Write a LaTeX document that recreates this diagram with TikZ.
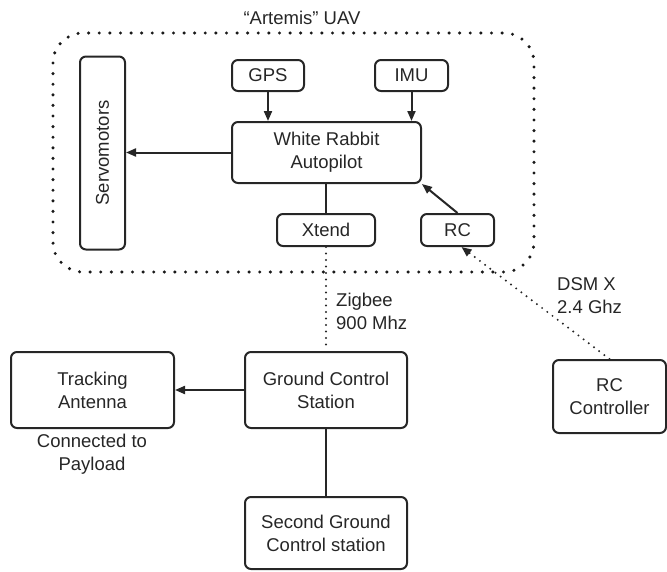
\documentclass[tikz,border=0pt]{standalone}
\usepackage{fontspec}
\setmainfont{Liberation Sans}
\usetikzlibrary{arrows.meta}
\begin{document}
\begin{tikzpicture}[x=1pt,y=-1pt,
  box/.style={draw=black!85, line width=2pt, rounded corners=6pt, align=center, inner sep=0pt,
              font=\fontsize{18.5}{23}\selectfont, text=black!85},
  lbl/.style={inner sep=0pt, font=\fontsize{18.5}{23}\selectfont, text=black!85},
  arr/.style={draw=black!85, line width=2pt, -{Triangle[length=10pt,width=8pt]}},
  ln/.style={draw=black!85, line width=2pt},
  dotln/.style={draw=black!85, line width=2.2pt, line cap=round, dash pattern=on 0pt off 6.5pt},
  dotarr/.style={dotln, -{Triangle[length=10pt,width=8pt]}},
  bigdot/.style={draw=black!90, line width=3.4pt, line cap=round, dash pattern=on 0pt off 10.6pt}
]
\useasboundingbox (0,0) rectangle (667,571);
% group boundary
\draw[bigdot, rounded corners=30pt] (53,33) rectangle (534,272);
\node[lbl] (title) at (302,18) {“Artemis” UAV};
% UAV nodes
\node[box, minimum width=72pt, minimum height=31pt] (gps) at (268,75.5) {GPS};
\node[box, minimum width=73pt, minimum height=31pt] (imu) at (411.5,75.5) {IMU};
\node[box, minimum width=189pt, minimum height=61pt] (ap) at (326.5,152.5) {White Rabbit\\Autopilot};
\node[box, minimum width=98pt, minimum height=32pt] (xtend) at (326,230) {Xtend};
\node[box, minimum width=73pt, minimum height=32pt] (rc) at (457.5,230) {RC};
\node[box, minimum width=45pt, minimum height=193pt] (servo) at (102.5,153) {};
\node[lbl, rotate=90] (servotext) at (servo.center) {Servomotors};
% ground nodes
\node[box, minimum width=162pt, minimum height=76pt] (gcs) at (326,390) {Ground Control\\Station};
\node[box, minimum width=163pt, minimum height=76pt] (ta) at (92.5,390) {Tracking\\Antenna};
\node[box, minimum width=162pt, minimum height=72pt] (sgcs) at (326,533) {Second Ground\\Control station};
\node[box, minimum width=113pt, minimum height=73pt] (rcc) at (609.5,396.5) {RC\\Controller};
% labels
\node[lbl, anchor=west, align=left] (zig) at (336,311) {Zigbee\\900 Mhz};
\node[lbl, anchor=west, align=left] (dsm) at (557,296) {DSM X\\2.4 Ghz};
\node[lbl, align=center] (conn) at (92,454) {Connected to\\Payload};
% connectors
\draw[arr] (gps.south) -- (gps.south |- ap.north);
\draw[arr] (imu.south) -- (imu.south |- ap.north);
\draw[arr] (ap.west) -- (servo.east |- ap.west);
\draw[ln] (xtend.north) -- (xtend.north |- ap.south);
\draw[arr] (rc.north) -- (ap.south east);
\draw[dotln] (xtend.south) -- (gcs.north);
\draw[arr] (gcs.west) -- (ta.east);
\draw[ln] (gcs.south) -- (sgcs.north);
\draw[dotarr] (rcc.north) -- ([xshift=4pt]rc.south);
\end{tikzpicture}
\end{document}
